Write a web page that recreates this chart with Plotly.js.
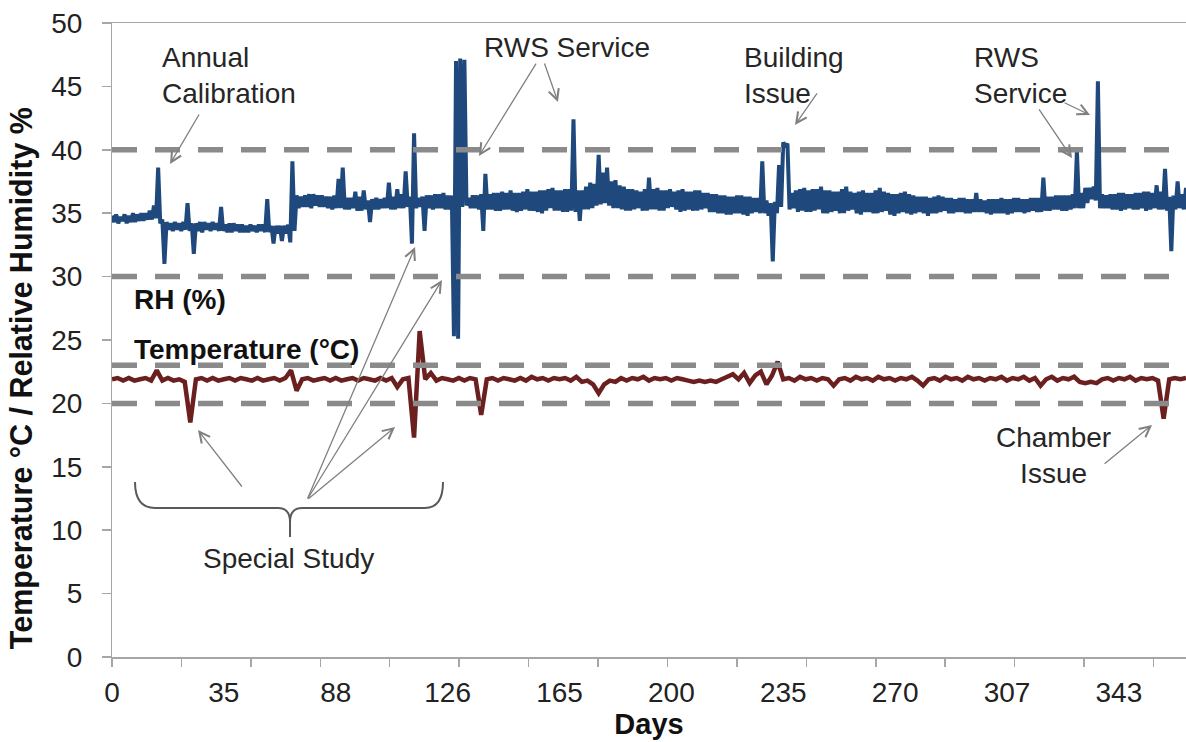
<!DOCTYPE html>
<html>
<head>
<meta charset="utf-8">
<script src="https://cdn.plot.ly/plotly-3.0.1.min.js"></script>
<style>html,body{margin:0;padding:0;background:#fff;}#chart{width:1186px;height:742px;}</style>
</head>
<body>
<div id="chart"></div>
<script>
// ---- data ----
// x unit = logged record. RH: band maximum and minimum read every 3 records
// (drawn as one dense trace, max then min half a step later). Temperature every 4 records.
const RH_STEP = 3;
const TEMP_STEP = 4;
const rhHigh = [
34.8,34.9,34.7,34.9,34.8,35.0,34.9,35.0,35.0,35.2,
35.6,38.6,34.5,34.3,34.2,34.3,34.2,34.3,35.8,34.2,
34.2,34.3,34.3,34.2,34.3,34.2,35.5,34.1,34.2,34.2,
34.1,34.1,34.0,34.1,34.0,34.1,34.1,36.1,34.0,34.0,
34.0,34.0,34.1,39.1,36.4,36.3,36.4,36.5,36.5,36.4,
36.4,36.3,36.3,36.4,37.7,38.6,36.2,36.2,36.7,36.3,
36.8,36.0,36.1,36.2,36.1,36.2,37.4,36.3,36.9,36.5,
38.3,36.3,41.3,36.2,36.3,36.4,36.4,36.5,36.5,36.6,
36.4,36.4,47.0,47.2,47.1,36.2,36.4,36.4,36.5,38.1,
36.5,36.6,36.6,36.7,36.6,36.8,36.6,36.6,36.7,36.9,
36.7,36.7,36.8,36.8,36.9,37.0,36.8,36.8,36.9,36.9,
42.4,36.8,36.8,37.1,37.4,37.3,39.6,38.2,38.6,37.5,
37.6,37.2,37.1,36.9,36.9,36.8,36.7,36.9,37.8,36.9,
37.0,36.8,36.8,36.9,36.7,36.8,36.9,36.7,36.7,36.8,
36.8,36.6,36.6,36.5,36.5,36.4,36.4,36.3,36.3,36.4,
36.4,36.3,36.3,36.2,36.2,39.1,36.0,35.8,35.9,38.8,
40.6,40.5,36.6,36.8,36.9,37.0,36.8,36.9,36.9,37.1,
36.8,36.8,36.7,36.7,36.9,37.1,36.7,36.6,36.7,36.8,
36.6,36.6,36.8,37.0,36.7,36.6,36.5,36.5,36.6,36.7,
36.5,36.4,36.3,36.3,36.3,36.2,36.3,36.4,36.3,36.2,
36.2,36.1,36.2,36.2,36.1,36.1,36.6,36.1,36.0,36.1,
36.1,36.1,36.2,36.1,36.1,36.2,36.2,36.1,36.1,36.2,
36.2,36.2,37.8,36.3,36.3,36.4,36.4,36.4,36.4,36.5,
39.9,36.6,37.0,37.0,37.1,45.4,36.5,36.4,36.5,36.5,
36.6,36.6,36.5,36.5,36.6,36.6,36.7,36.7,36.6,37.2,
36.7,38.5,36.3,36.4,37.5,36.5,37.0
];
const rhLow = [
34.3,34.2,34.4,34.2,34.3,34.3,34.4,34.4,34.5,34.5,
34.6,34.2,31.0,33.7,33.6,33.7,33.6,33.7,33.6,31.8,
33.6,33.5,33.7,33.6,33.7,33.6,33.6,33.5,33.5,33.6,
33.5,33.5,33.5,33.6,33.5,33.6,33.5,33.5,32.6,33.4,
32.8,33.4,32.7,33.6,35.4,35.5,35.5,35.4,35.6,35.5,
35.5,35.4,35.3,35.4,35.4,35.3,35.3,35.4,35.2,35.2,
35.3,34.3,35.3,35.3,35.4,35.4,35.3,35.3,35.4,35.4,
35.5,32.6,35.4,35.5,33.6,35.4,35.3,35.4,35.4,35.3,
35.3,25.3,25.1,35.5,35.6,35.4,35.4,35.3,33.6,35.3,
35.3,35.2,35.2,35.3,35.3,35.2,35.1,35.2,35.3,35.2,
35.2,35.1,35.0,35.2,35.4,35.2,35.2,35.1,35.1,35.2,
35.1,34.4,35.3,35.3,35.4,35.6,35.7,35.8,35.6,35.4,
35.4,35.3,35.2,35.2,35.3,35.4,35.2,35.2,35.3,35.3,
35.2,35.2,35.4,35.5,35.3,35.1,35.2,35.3,35.2,35.2,
35.3,35.4,35.1,35.1,35.0,35.0,34.9,34.9,35.0,35.0,
34.9,34.8,35.0,35.1,35.0,35.0,34.8,31.2,35.0,35.5,
40.2,35.3,35.4,35.1,35.2,35.1,35.1,35.2,35.3,35.0,
35.0,35.1,35.2,35.0,35.0,35.2,35.3,35.0,34.9,35.1,
35.1,35.0,35.0,35.1,35.2,34.9,34.8,35.0,35.1,35.0,
34.9,35.0,35.1,35.0,34.8,35.0,35.0,35.1,35.2,35.0,
35.0,35.1,35.1,35.0,35.0,35.1,35.1,35.1,35.0,34.9,
35.0,35.0,35.0,34.9,35.0,35.1,35.1,35.0,35.1,35.2,
35.1,35.1,35.2,35.2,35.3,35.3,35.2,35.2,35.3,35.4,
35.4,35.4,35.8,36.1,36.0,35.4,35.4,35.4,35.3,35.3,
35.2,35.3,35.4,35.3,35.3,35.4,35.2,35.3,35.4,35.3,
35.3,35.2,32.0,35.3,35.4,35.3,35.4
];
const tempValues = [
21.9,22.0,21.8,22.0,21.8,21.9,22.0,21.8,22.6,21.8,
22.0,21.8,21.9,21.7,18.5,21.9,22.0,21.8,22.0,21.8,
21.9,22.0,21.8,22.0,21.9,21.8,22.0,21.8,21.9,22.0,
21.8,22.0,22.6,21.0,21.9,22.0,21.8,21.9,22.0,21.8,
22.0,21.8,21.9,22.0,21.8,22.0,21.9,21.8,22.0,21.8,
22.0,21.3,21.9,22.0,17.3,25.7,21.9,22.4,21.8,22.0,
21.9,21.8,22.0,21.8,22.0,21.9,19.1,21.9,22.0,21.8,
22.0,21.9,21.8,22.0,21.8,22.1,21.9,22.0,21.8,22.0,
21.9,22.0,21.8,22.1,21.7,21.8,21.5,20.8,21.5,21.8,
21.7,22.0,21.8,22.0,21.9,22.1,21.8,22.0,21.9,22.0,
21.8,22.0,21.9,21.8,21.7,21.8,21.7,21.8,21.7,21.9,
22.1,22.3,21.9,22.4,21.6,22.2,22.5,21.5,22.2,23.3,
21.9,22.0,21.8,22.1,21.9,22.0,21.8,22.0,21.9,21.4,
21.9,22.0,21.8,22.1,21.9,22.0,21.8,22.1,21.9,22.0,
21.8,22.0,21.9,22.1,21.8,21.4,21.9,22.0,21.8,22.1,
21.9,22.0,21.8,22.1,21.9,22.0,21.8,22.0,21.9,22.1,
21.8,22.0,21.9,22.1,21.8,22.0,21.4,21.9,22.1,21.8,
22.0,21.9,22.1,21.7,21.6,21.7,21.6,21.9,22.0,21.8,
22.0,21.9,22.1,21.8,22.0,21.9,22.0,21.8,18.8,21.9,
22.0,21.9,22.0
];
const dayTickRecords = [0,80,160,240,320,400,480,560,640,720];
const dayTickLabels = ['0','35','88','126','165','200','235','270','307','343'];
const limitLines = [40,30,23,20];
const X_MAX = 768;

// ---- annotation texts (x in records, y in chart units) ----
const labels = [
  {text:'Annual<br>Calibration', x:34.3, y:45.86, xanchor:'left', align:'left'},
  {text:'RWS Service', x:264.6, y:48.07, xanchor:'left', align:'left'},
  {text:'Building<br>Issue', x:450.5, y:45.86, xanchor:'left', align:'left'},
  {text:'RWS<br>Service', x:615.0, y:45.86, xanchor:'left', align:'left'},
  {text:'Chamber<br>Issue', x:672.9, y:15.93, xanchor:'center', align:'center'},
  {text:'Special Study', x:125.9, y:7.73, xanchor:'center', align:'center'}
];
const boldLabels = [
  {text:'<b>RH (%)</b>', x:14.3, y:28.23},
  {text:'<b>Temperature (°C)</b>', x:14.3, y:24.29}
];
// arrows: [tailX, tailY, headX, headY]
const arrows = [
  [62.9,42.9, 41.5,38.88],
  [303.9,46.92, 262.4,39.51],
  [308.9,46.92, 318.9,43.77],
  [504.9,44.56, 488.4,41.96],
  [662.2,43.30, 686.5,39.35],
  [680.1,43.77, 699.4,42.74],
  [708.7,15.14, 743.7,18.30],
  [93.7,13.33, 61.5,17.90],
  [139.4,12.38, 202.4,18.14],
  [139.4,12.38, 216.7,32.33],
  [139.4,12.38, 236.0,29.73]
];

// dense RH trace: band max then band min at each reading
const rhX = [], rhY = [];
rhHigh.forEach((h,i)=>{
  rhX.push(i*RH_STEP); rhY.push(h);
  rhX.push(i*RH_STEP + RH_STEP/2); rhY.push(rhLow[i]);
});
const tempX = tempValues.map((v,i)=>i*TEMP_STEP);

const traces = [
  {x:tempX, y:tempValues, type:'scatter', mode:'lines', line:{color:'#6c1f1f', width:4.5, simplify:false}, hoverinfo:'skip', showlegend:false},
  {x:rhX, y:rhY, type:'scatter', mode:'lines', line:{color:'#1f497d', width:4, simplify:false}, hoverinfo:'skip', showlegend:false},
  {x:[0], y:[0], xaxis:'x2', type:'scatter', mode:'markers', marker:{opacity:0}, hoverinfo:'skip', showlegend:false},
  {x:[0], y:[0], yaxis:'y2', type:'scatter', mode:'markers', marker:{opacity:0}, hoverinfo:'skip', showlegend:false}
];

const shapes = limitLines.map(v=>({
  type:'line', xref:'paper', x0:0, x1:1, yref:'y', y0:v, y1:v,
  line:{color:'#8a8a8a', width:5.5, dash:'25px,18px'}, layer:'above'
}));
shapes.push({
  type:'path', xref:'x', yref:'y', layer:'above',
  path:'M16.45,13.80 Q16.45,11.75 30.75,11.75 L118.7,11.75 Q127.3,11.75 127.3,10.65 L127.3,9.46 M127.3,10.65 Q127.3,11.75 135.9,11.75 L223.8,11.75 Q236.7,11.75 236.7,13.80',
  line:{color:'#595959', width:2}
});

const annotations = [];
labels.forEach(l=>annotations.push({
  text:l.text, x:l.x, y:l.y, xref:'x', yref:'y', xanchor:l.xanchor, yanchor:'middle',
  align:l.align, showarrow:false, font:{family:'Liberation Sans, Arial, sans-serif', size:28, color:'#262626'}
}));
boldLabels.forEach(l=>annotations.push({
  text:l.text, x:l.x, y:l.y, xref:'x', yref:'y', xanchor:'left', yanchor:'middle',
  showarrow:false, font:{family:'Liberation Sans, Arial, sans-serif', size:28, color:'#111'}
}));
arrows.forEach(a=>annotations.push({
  text:'', x:a[2], y:a[3], ax:a[0], ay:a[1], xref:'x', yref:'y', axref:'x', ayref:'y',
  showarrow:true, arrowhead:5, arrowsize:1.6, arrowwidth:1.3, arrowcolor:'#808080', standoff:0, startstandoff:0
}));

const layout = {
  width:1186, height:742,
  margin:{l:112, r:0, t:23, b:85},
  paper_bgcolor:'#ffffff', plot_bgcolor:'#ffffff',
  font:{family:'Liberation Sans, Arial, sans-serif', color:'#222', size:28},
  showlegend:false,
  xaxis:{
    range:[0, X_MAX], tickmode:'array', tickvals:dayTickRecords, ticktext:dayTickLabels,
    ticks:'outside', ticklen:10, tickcolor:'rgba(0,0,0,0)',
    showline:true, linecolor:'#a6a6a6', linewidth:1.5, mirror:true,
    showgrid:false, zeroline:false,
    tickfont:{size:28, color:'#222'},
    title:{text:'<b>Days</b>', font:{size:29, color:'#111'}, standoff:0}
  },
  xaxis2:{
    overlaying:'x', anchor:'y', side:'bottom', range:[0, X_MAX],
    tickmode:'linear', tick0:0, dtick:49.65, ticks:'outside', ticklen:9, tickwidth:1.5, tickcolor:'#a6a6a6',
    showticklabels:false, showline:false, showgrid:false, zeroline:false
  },
  // main y axis: line, visible tick marks and the title
  yaxis:{
    range:[0,50], dtick:5, tick0:0, ticks:'outside', ticklen:9, tickwidth:1.5, tickcolor:'#a6a6a6',
    showline:true, linecolor:'#a6a6a6', linewidth:1.5,
    showgrid:false, zeroline:false, showticklabels:false,
    title:{text:'<b>Temperature °C / Relative Humidity %\u00A0\u00A0\u00A0\u00A0\u00A0\u00A0\u00A0\u00A0\u00A0</b>', font:{size:30.5, color:'#111'}, standoff:60}
  },
  // overlay y axis carrying the tick labels
  yaxis2:{
    overlaying:'y', anchor:'x', side:'left', range:[0,50], dtick:5, tick0:0,
    ticks:'outside', ticklen:23, tickcolor:'rgba(0,0,0,0)',
    showline:false, showgrid:false, zeroline:false,
    tickfont:{size:28, color:'#222'}
  },
  shapes:shapes,
  annotations:annotations
};

Plotly.newPlot('chart', traces, layout, {staticPlot:true, displayModeBar:false});
</script>
</body>
</html>
